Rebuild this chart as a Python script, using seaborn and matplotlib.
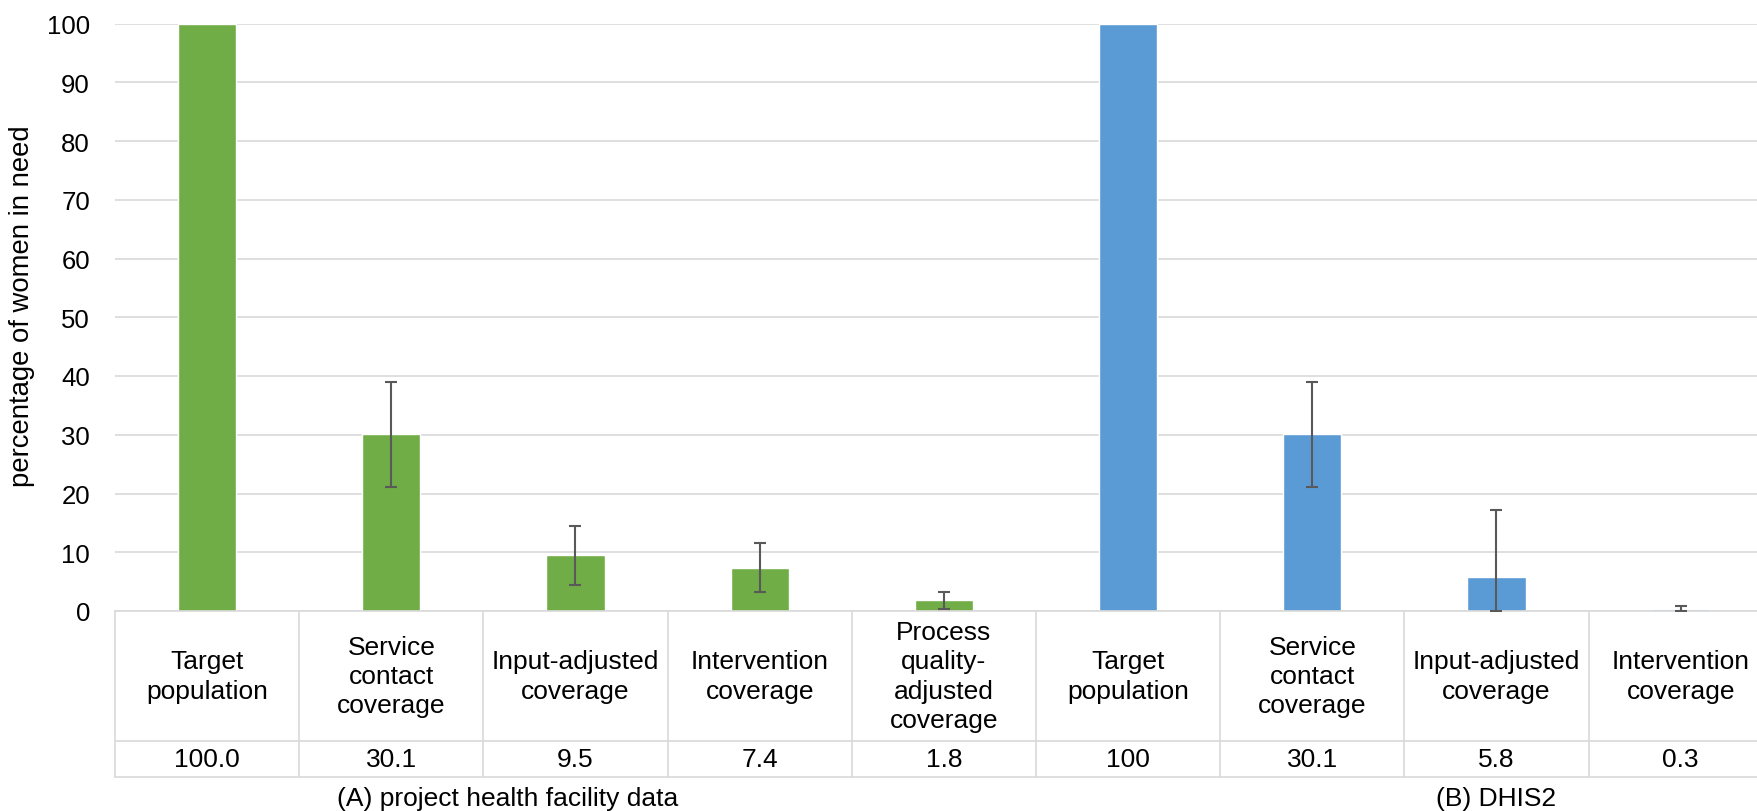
import numpy as np
import pandas as pd
import matplotlib
matplotlib.use("Agg")
import matplotlib.pyplot as plt
import seaborn as sns

# ---- data -------------------------------------------------------------
categories = [
    "Target\npopulation",
    "Service\ncontact\ncoverage",
    "Input-adjusted\ncoverage",
    "Intervention\ncoverage",
    "Process\nquality-\nadjusted\ncoverage",
    "Target\npopulation",
    "Service\ncontact\ncoverage",
    "Input-adjusted\ncoverage",
    "Intervention\ncoverage",
]
sources = ["A"] * 5 + ["B"] * 4
values = [100.0, 30.1, 9.5, 7.4, 1.8, 100.0, 30.1, 5.8, 0.3]
value_labels = ["100.0", "30.1", "9.5", "7.4", "1.8", "100", "30.1", "5.8", "0.3"]
ci_low = [None, 21.1, 4.4, 3.2, 0.3, None, 21.1, 0.0, 0.0]
ci_high = [None, 39.0, 14.4, 11.5, 3.3, None, 39.0, 17.2, 0.9]
group_names = ["(A) project health facility data", "(B) DHIS2"]
group_label_pos = [1.63, 7.0]
y_ticks = list(range(0, 101, 10))

# ---- style ------------------------------------------------------------
sns.set_style("white")
plt.rcParams["font.family"] = ["Liberation Sans", "DejaVu Sans"]
GREEN = "#70AD47"
BLUE = "#5B9BD5"
GRID = "#D9D9D9"
TEXT = "#000000"
FS = 19

W, H = 1758, 812
fig = plt.figure(figsize=(W / 100, H / 100), dpi=100)

# plot area in pixels
left_px, top_px, bottom_px = 115, 24.5, 612
cell_px = 184.2
n = len(categories)
ax_w_px = cell_px * n
ax_h_px = bottom_px - top_px
ax = fig.add_axes([left_px / W, (H - bottom_px) / H, ax_w_px / W, ax_h_px / H])

df = pd.DataFrame({"pos": np.arange(n), "value": values, "source": sources})
sns.barplot(data=df, x="pos", y="value", hue="source",
            palette={"A": GREEN, "B": BLUE}, dodge=False, width=0.315,
            legend=False, ax=ax, saturation=1, zorder=2)

# error bars for the coverage steps
idx = [i for i in range(n) if ci_low[i] is not None]
yv = np.array([values[i] for i in idx])
lo = yv - np.array([ci_low[i] for i in idx])
hi = np.array([ci_high[i] for i in idx]) - yv
ax.errorbar(idx, yv, yerr=[lo, hi], fmt="none", ecolor="#595959",
            elinewidth=1.5, capsize=4.5, capthick=1.5, zorder=3)

ax.set_xlim(-0.5, n - 0.5)
ax.set_ylim(0, 100)
ax.set_yticks(y_ticks)
ax.tick_params(axis="y", length=0, pad=18, labelsize=FS - 0.5, labelcolor=TEXT)
ax.set_xticks([])
ax.set_xlabel("")
ax.yaxis.grid(True, color=GRID, lw=1.2)
ax.set_axisbelow(True)
for s in ("left", "top", "right"):
    ax.spines[s].set_visible(False)
ax.spines["bottom"].set_color(GRID)
ax.spines["bottom"].set_linewidth(1.2)

ax.set_ylabel("percentage of women in need", fontsize=19.8, color=TEXT)
ax.yaxis.set_label_coords((35 - left_px) / ax_w_px, 0.52)

# ---- data table under the axis ---------------------------------------
tr = ax.get_xaxis_transform()


def fy(px):
    """pixel row position -> axes fraction"""
    return -(px - bottom_px) / ax_h_px


row1_bottom = fy(742)
row2_bottom = fy(778)
for yb in (row1_bottom, row2_bottom):
    ax.plot([-0.5, n - 0.5], [yb, yb], transform=tr, color=GRID, lw=1.2,
            clip_on=False)
for xb in np.arange(n + 1) - 0.5:
    ax.plot([xb, xb], [0, row2_bottom], transform=tr, color=GRID, lw=1.2,
            clip_on=False)

for i in range(n):
    ax.text(i, fy(677), categories[i], transform=tr, ha="center", va="center",
            fontsize=FS, color=TEXT, linespacing=1.27)
    ax.text(i, fy(760), value_labels[i], transform=tr, ha="center",
            va="center", fontsize=FS, color=TEXT)

for name, xp in zip(group_names, group_label_pos):
    ax.text(xp, fy(799), name, transform=tr, ha="center", va="center",
            fontsize=FS, color=TEXT)

fig.savefig("out.png", dpi=100)
